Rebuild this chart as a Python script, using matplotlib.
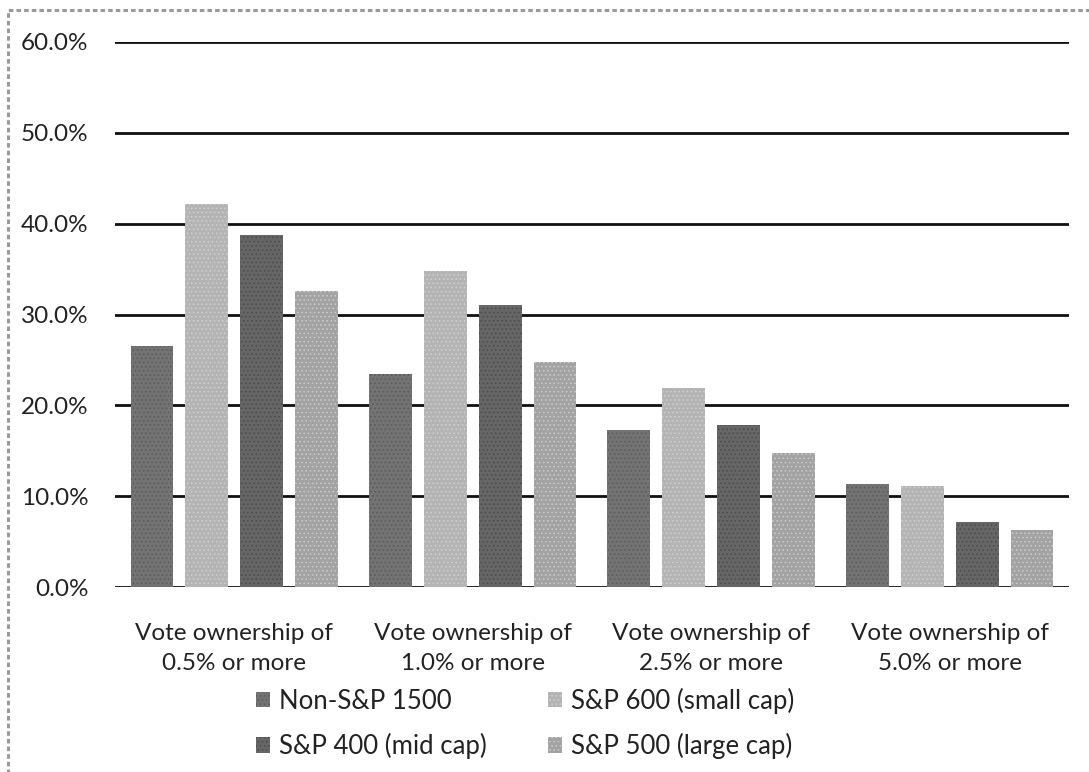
import numpy as np
import matplotlib.pyplot as plt
from matplotlib.patches import Rectangle

# Data
categories = ['Vote ownership of\n0.5% or more', 'Vote ownership of\n1.0% or more',
              'Vote ownership of\n2.5% or more', 'Vote ownership of\n5.0% or more']
series_names = ['Non-S&P 1500', 'S&P 600 (small cap)', 'S&P 400 (mid cap)', 'S&P 500 (large cap)']
non_sp1500 = [26.5, 23.5, 17.3, 11.3]
sp600 = [42.2, 34.8, 21.9, 11.1]
sp400 = [38.8, 31.1, 17.8, 7.2]
sp500 = [32.6, 24.8, 14.8, 6.3]
y_ticks = [0, 10, 20, 30, 40, 50, 60]

colors = ['#737373', '#b4b4b4', '#666666', '#a3a3a3']
hatch_colors = ['#5a5a5a', '#d0d0d0', '#4a4a4a', '#cccccc']

plt.rcParams['font.family'] = ['Lato', 'DejaVu Sans']
plt.rcParams['hatch.linewidth'] = 0.6

fig = plt.figure(figsize=(10.89, 7.72), dpi=100)
ax = fig.add_axes([0.1056, 0.2396, 0.876, 0.706])

# dotted frame around the chart area
fig.patches.append(Rectangle((8 / 1089, -0.05), 1.2, 1 - 10 / 772 + 0.05,
                             transform=fig.transFigure, fill=False,
                             edgecolor='#9a9a9a', linestyle=(0, (1.5, 1.0)), linewidth=2.2))

x = np.arange(len(categories))
width = 0.18
step = 0.23
all_series = [non_sp1500, sp600, sp400, sp500]
bars = []
for i, vals in enumerate(all_series):
    b = ax.bar(x + (i - 1.5) * step, vals, width, color=colors[i], label=series_names[i],
               hatch='....', edgecolor=hatch_colors[i], linewidth=0, zorder=3)
    bars.append(b)

ax.set_ylim(0, 60)
ax.set_xlim(-0.5, len(categories) - 0.5)
ax.set_yticks(y_ticks)
ax.set_yticklabels([f'{v:.1f}%' for v in y_ticks], fontsize=17.5, color='#222222')
ax.set_xticks(x)
ax.set_xticklabels(categories, fontsize=17.5, color='#222222', linespacing=1.5)
ax.tick_params(axis='both', length=0)
ax.tick_params(axis='y', pad=19)
ax.tick_params(axis='x', pad=26)
ax.grid(True, axis='y', color='#111111', linewidth=2.0, zorder=0)
for s in ax.spines.values():
    s.set_visible(False)

# row-wise legend order: Non-S&P, S&P 600 / S&P 400, S&P 500
order = [0, 2, 1, 3]
ax.legend([bars[k] for k in order], [series_names[k] for k in order],
          loc='upper center', bbox_to_anchor=(0.43, -0.142), ncol=2, frameon=False,
          fontsize=18.5, handlelength=0.55, handleheight=0.55, handletextpad=0.35,
          columnspacing=2.4, labelspacing=0.75, labelcolor='#222222')

plt.savefig('out.png', dpi=100)
